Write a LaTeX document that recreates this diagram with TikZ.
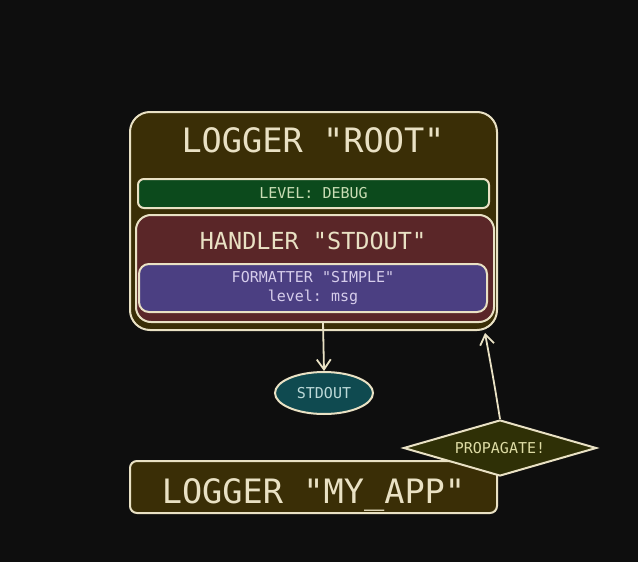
\documentclass[tikz,border=0pt]{standalone}
\usepackage{fontspec}
\setmonofont{DejaVu Sans Mono}
\usetikzlibrary{shapes.geometric,arrows.meta}
\definecolor{bgblack}{HTML}{0E0E0E}
\definecolor{cream}{HTML}{E9E1C4}
\definecolor{loggerfill}{HTML}{3A2E06}
\definecolor{levelfill}{HTML}{0C4A1C}
\definecolor{levelink}{HTML}{C9DDB4}
\definecolor{handlerfill}{HTML}{5A2628}
\definecolor{fmtfill}{HTML}{4B3F82}
\definecolor{fmtink}{HTML}{D6CDEB}
\definecolor{stdoutfill}{HTML}{0F4A50}
\definecolor{stdoutink}{HTML}{BCD9D8}
\definecolor{propfill}{HTML}{2F3006}
\definecolor{propink}{HTML}{DDDBA4}
\tikzset{
  box/.style={draw=cream, line width=2pt, rounded corners=#1, inner sep=0pt},
  box/.default=8pt,
  bigtext/.style={text=cream, font=\ttfamily\fontsize{33.6}{36}\selectfont},
  smalltext/.style={font=\ttfamily\fontsize{15}{19}\selectfont, align=center}
}
\begin{document}
\begin{tikzpicture}[x=1pt, y=-1pt, >={Straight Barb[length=10pt,width=14pt]}]
  \fill[bgblack] (0,0) rectangle (638,562);
  \useasboundingbox (0,0) rectangle (638,562);
  % logger root
  \node (root) at (313.5,221) [box=20pt, fill=loggerfill, minimum width=367pt, minimum height=218pt] {};
  \node (roottitle) at (313,140) [bigtext] {LOGGER "ROOT"};
  \node (level) at (313.5,193.5) [box=6pt, fill=levelfill, minimum width=351pt, minimum height=29pt, smalltext, text=levelink] {LEVEL: DEBUG};
  \node (handler) at (315,268.5) [box=15pt, fill=handlerfill, minimum width=358pt, minimum height=107pt] {};
  \node (handlertitle) at (313,241) [text=cream, font=\ttfamily\fontsize{23.5}{26}\selectfont] {HANDLER "STDOUT"};
  \node (formatter) at (313,288) [box=10pt, fill=fmtfill, minimum width=348pt, minimum height=48pt, smalltext, text=fmtink] {FORMATTER "SIMPLE"\\level: msg};
  % outputs
  \node (stdout) at (324,393) [ellipse, draw=cream, line width=2pt, fill=stdoutfill, minimum width=98pt, minimum height=42pt, inner sep=0pt, smalltext, text=stdoutink] {STDOUT};
  \draw[->, cream, line width=1.8pt] (323,322) -- (stdout.north);
  % child logger
  \node (myapp) at (313.5,487) [box=7pt, fill=loggerfill, minimum width=367pt, minimum height=52pt, bigtext, text height=32pt, text depth=0pt] {LOGGER "MY\_APP"};
  \node (propagate) at (500,448) [diamond, draw=cream, line width=2pt, fill=propfill, aspect=3.45, minimum width=193pt, minimum height=56pt, inner sep=0pt, smalltext, text=propink] {PROPAGATE!};
  \draw[->, cream, line width=1.8pt] (propagate.north) .. controls (494,382) .. (485,333);
\end{tikzpicture}
\end{document}
